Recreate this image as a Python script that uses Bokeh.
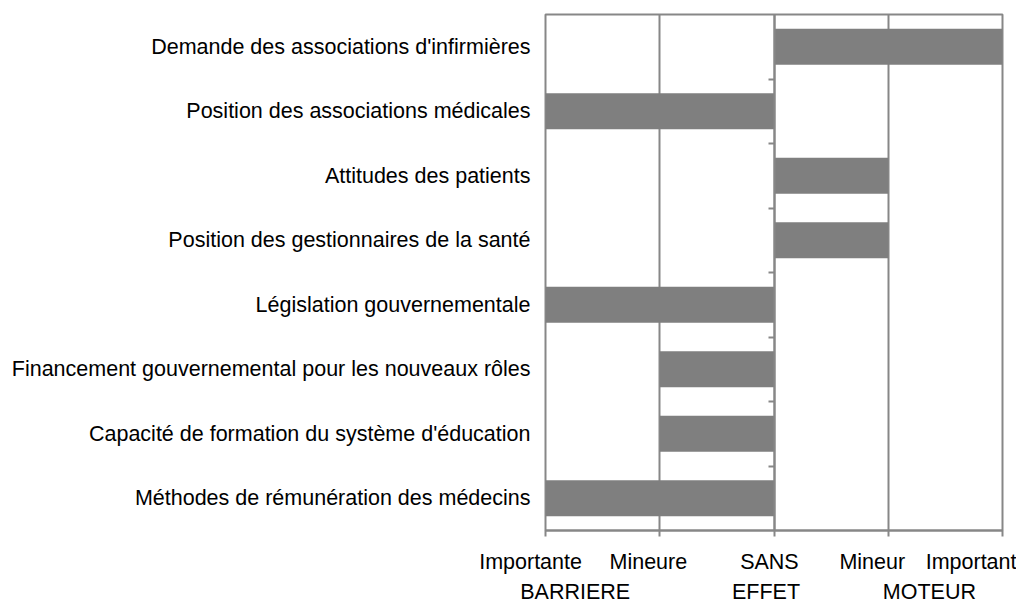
from bokeh.plotting import figure
from bokeh.models import (ColumnDataSource, LinearAxis, FixedTicker, Range1d, Grid)
from bokeh.embed import file_html
from bokeh.resources import INLINE

# ---- data ----
categories = [
    "Demande des associations d'infirmières",
    "Position des associations médicales",
    "Attitudes des patients",
    "Position des gestionnaires de la santé",
    "Législation gouvernementale",
    "Financement gouvernemental pour les nouveaux rôles",
    "Capacité de formation du système d'éducation",
    "Méthodes de rémunération des médecins",
]
values = [2, -2, 1, 1, -2, -1, -1, -2]
x_ticks = [-2, -1, 0, 1, 2]
scale_labels_1 = ["Importante\u00a0\u00a0\u00a0\u00a0\u00a0", "Mineure", "SANS", "Mineur", "Important"]
scale_labels_2 = ["BARRIERE", "EFFET", "MOTEUR"]

# layout constants (label centres along the scale)
label1_pos = [-2.0, -1.10, -0.04, 0.86, 1.75]
label2_pos = [-1.74, -0.07, 1.36]

n = len(categories)
ypos = [n - i - 0.5 for i in range(n)]
src = ColumnDataSource(dict(y=ypos, left=[0] * n, right=values))

FONT = "Liberation Sans"
FS = "21.5px"
GRAY = "#878787"

p = figure(width=1016, height=606, output_backend="svg", toolbar_location=None,
           x_range=Range1d(-2, 2), y_range=Range1d(0, n),
           x_axis_location=None, y_axis_location=None,
           min_border_left=545, min_border_right=14, min_border_top=14,
           min_border_bottom=76)
p.outline_line_color = GRAY
p.outline_line_width = 2
p.background_fill_color = "white"
p.border_fill_color = "white"

p.hbar(y="y", left="left", right="right", height=0.56, source=src,
       fill_color="#7f7f7f", line_color=None)

# category labels on the left
ax_left = LinearAxis(ticker=FixedTicker(ticks=ypos),
                     major_label_overrides={y: c for y, c in zip(ypos, categories)})
ax_left.axis_line_color = None
ax_left.major_tick_line_color = None
ax_left.major_tick_out = 0
ax_left.major_tick_in = 0
ax_left.minor_tick_line_color = None
ax_left.major_label_standoff = 15
ax_left.major_label_text_font = FONT
ax_left.major_label_text_font_size = FS
ax_left.major_label_text_color = "#000000"
p.add_layout(ax_left, "left")

# category separator ticks on the zero line
sep = [float(k) for k in range(1, n)]
ax_mid = LinearAxis(ticker=FixedTicker(ticks=sep), fixed_location=0,
                    major_label_overrides={k: "" for k in sep})
ax_mid.axis_line_color = GRAY
ax_mid.axis_line_width = 2
ax_mid.major_tick_line_color = GRAY
ax_mid.major_tick_line_width = 2
ax_mid.major_tick_in = 6
ax_mid.major_tick_out = 0
ax_mid.minor_tick_line_color = None
ax_mid.major_label_text_font_size = "1px"
ax_mid.major_label_standoff = 0
p.add_layout(ax_mid, "right")

# bottom axis with ticks
ax_b = LinearAxis(ticker=FixedTicker(ticks=x_ticks),
                  major_label_overrides={k: "" for k in x_ticks})
ax_b.axis_line_color = GRAY
ax_b.axis_line_width = 2
ax_b.major_tick_line_color = GRAY
ax_b.major_tick_line_width = 2
ax_b.major_tick_out = 6
ax_b.major_tick_in = 0
ax_b.minor_tick_line_color = None
ax_b.major_label_text_font_size = "1px"
ax_b.major_label_standoff = 0
p.add_layout(ax_b, "below")


def text_axis(pos, labels, standoff):
    ax = LinearAxis(ticker=FixedTicker(ticks=pos),
                    major_label_overrides={x: t for x, t in zip(pos, labels)})
    ax.axis_line_color = None
    ax.major_tick_line_color = None
    ax.minor_tick_line_color = None
    ax.major_tick_out = 0
    ax.major_tick_in = 0
    ax.major_label_standoff = standoff
    ax.major_label_text_font = FONT
    ax.major_label_text_font_size = FS
    ax.major_label_text_color = "#000000"
    return ax


p.add_layout(text_axis(label1_pos, scale_labels_1, 13), "below")
p.add_layout(text_axis(label2_pos, scale_labels_2, 3), "below")

# vertical gridlines
p.xgrid.visible = False
p.ygrid.visible = False
g = Grid(dimension=0, ticker=FixedTicker(ticks=x_ticks))
g.grid_line_color = GRAY
g.grid_line_width = 2
p.add_layout(g)

open("out.html", "w").write(file_html(p, INLINE))
